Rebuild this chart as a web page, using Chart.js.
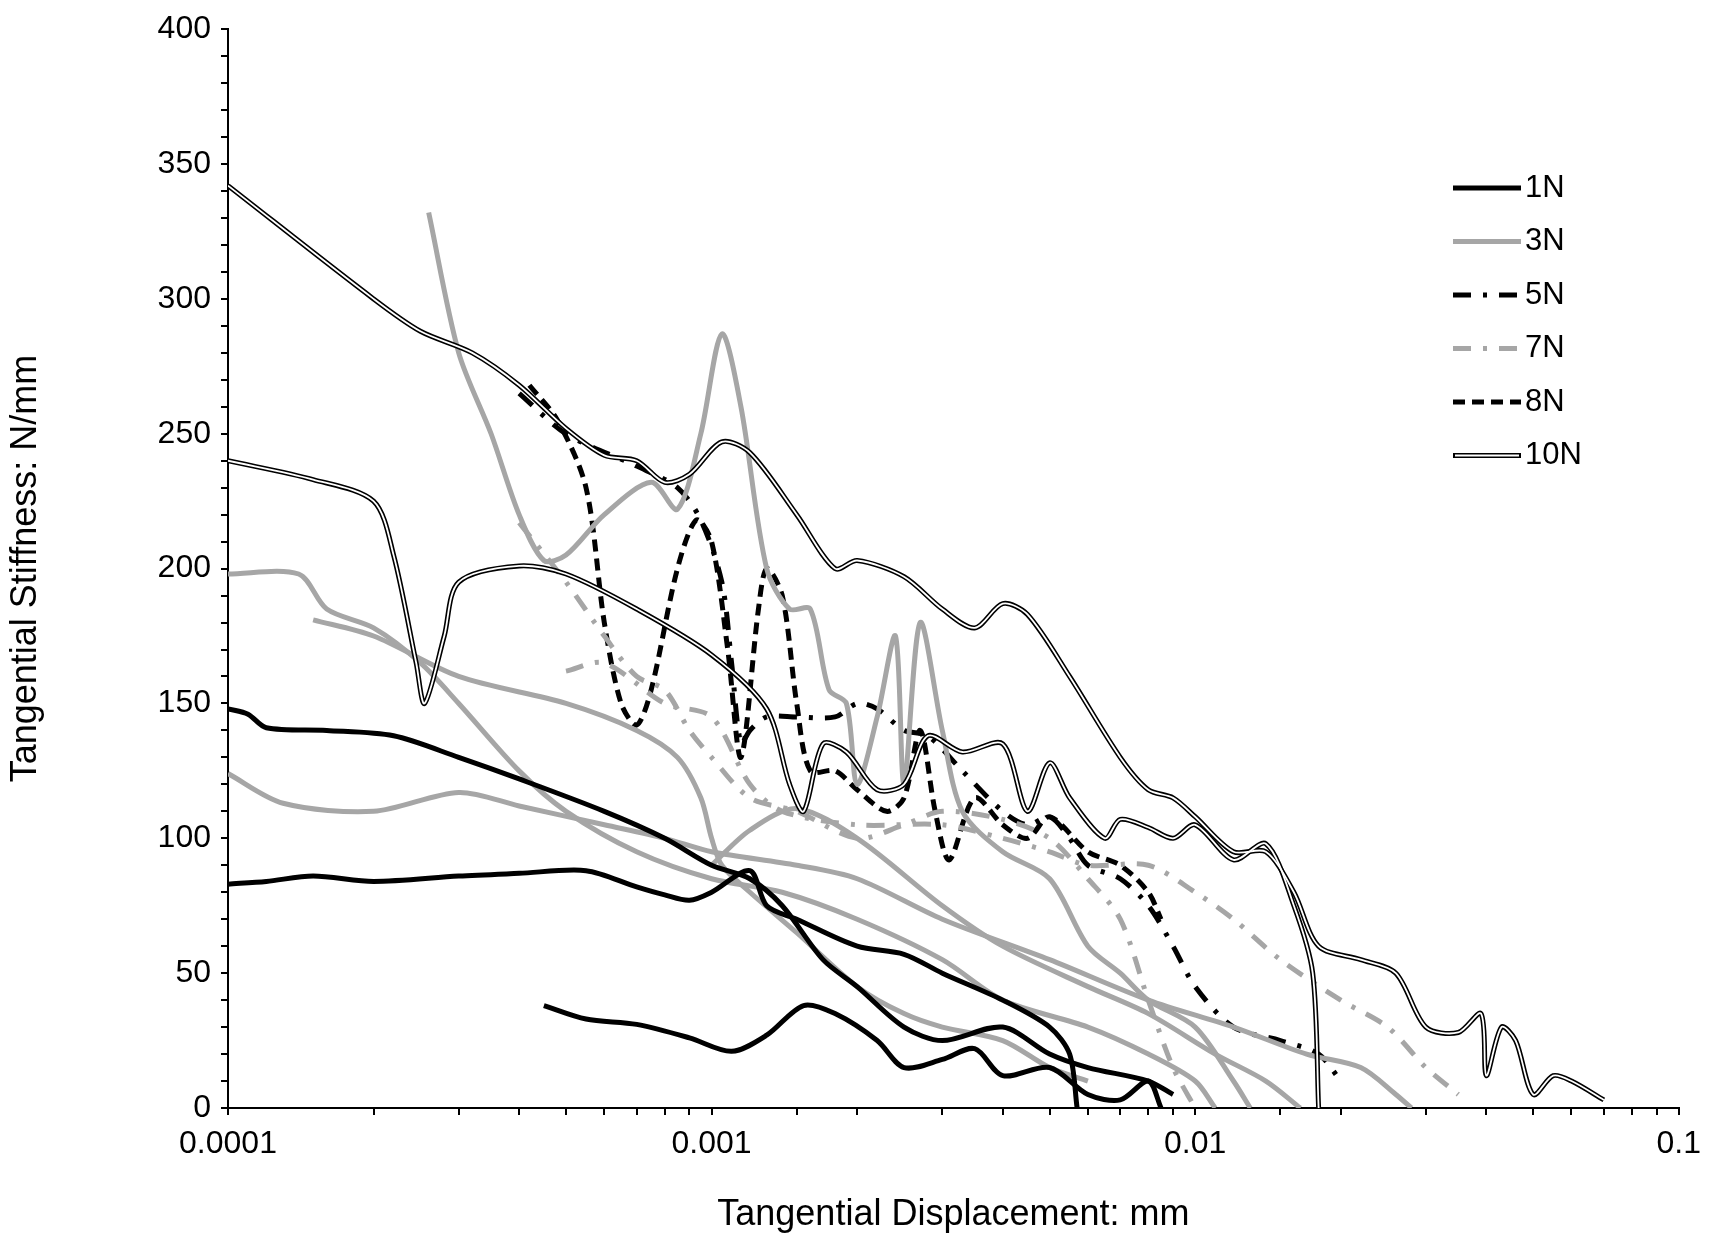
<!DOCTYPE html>
<html><head><meta charset="utf-8">
<script src="https://cdn.jsdelivr.net/npm/chart.js@4/dist/chart.umd.min.js"></script>
<style>html,body{margin:0;padding:0;background:#fff}#wrap{width:1711px;height:1241px}</style>
</head><body><div id="wrap"><canvas id="c"></canvas></div>
<script>
const xTickValues=[0.0001,0.001,0.01,0.1];
const xTickLabels=['0.0001','0.001','0.01','0.1'];
const seriesNames=['1N','3N','5N','7N','8N','10N'];
const n1a=[[1e-4,148],[1.1e-4,146],[1.2e-4,141],[1.6e-4,140],[2.2e-4,138],[3e-4,130],[4e-4,122],[6e-4,110],[8e-4,100],[1e-3,90],[1.2e-3,85],[1.4e-3,75],[1.7e-3,55],[2e-3,45],[2.5e-3,30],[3e-3,25],[4e-3,30],[5e-3,20],[6e-3,15],[8e-3,10],[9e-3,5]];
const n1b=[[1e-4,83],[1.2e-4,84],[1.5e-4,86],[2e-4,84],[3e-4,86],[4e-4,87],[5.5e-4,88],[7e-4,82],[8e-4,79],[9e-4,77],[1e-3,80],[1.2e-3,88],[1.3e-3,75],[1.5e-3,70],[2e-3,60],[2.5e-3,57],[3e-3,50],[4e-3,40],[5e-3,30],[5.5e-3,20],[5.7e-3,0]];
const n1c=[[4.5e-4,38],[5.5e-4,33],[7e-4,31],[9e-4,26],[1.1e-3,21],[1.3e-3,27],[1.55e-3,38],[1.8e-3,35],[2.2e-3,25],[2.5e-3,15],[3e-3,18],[3.5e-3,22],[4e-3,12],[5e-3,15],[6e-3,5],[7e-3,3],[8e-3,10],[8.5e-3,0]];
const n3a=[[2.6e-4,332],[3e-4,280],[3.5e-4,250],[4e-4,220],[4.5e-4,203],[5e-4,205],[6e-4,220],[7.5e-4,232],[8.5e-4,222],[9.5e-4,250],[1.05e-3,287],[1.15e-3,260],[1.3e-3,200],[1.45e-3,185],[1.6e-3,185],[1.75e-3,155],[1.9e-3,150],[2e-3,120],[2.2e-3,145],[2.4e-3,175],[2.5e-3,120],[2.7e-3,180],[3e-3,140],[3.3e-3,110],[4e-3,95],[5e-3,85],[6e-3,60],[7e-3,50],[8e-3,40],[1e-2,30],[1.2e-2,10],[1.3e-2,0]];
const n3b=[[1e-4,198],[1.4e-4,198],[1.6e-4,185],[2e-4,178],[2.5e-4,165],[3e-4,150],[4e-4,125],[5e-4,110],[7e-4,95],[1e-3,85],[1.4e-3,80],[2e-3,70],[3e-3,55],[4e-3,40],[6e-3,30],[8e-3,20],[1e-2,10],[1.1e-2,0]];
const n3c=[[1.5e-4,181],[2e-4,175],[3e-4,160],[5e-4,150],[7e-4,140],[8.5e-4,130],[9.5e-4,115],[1e-3,100],[1.05e-3,90],[1.2e-3,80],[1.5e-3,65],[2e-3,45],[2.5e-3,35],[3e-3,30],[4e-3,25],[5e-3,15],[6e-3,10]];
const n3d=[[1e-4,124],[1.3e-4,113],[2e-4,110],[3e-4,117],[4e-4,112],[6e-4,105],[8e-4,100],[1e-3,95],[1.5e-3,90],[2e-3,85],[3e-3,70],[5e-3,55],[8e-3,40],[1.2e-2,30],[1.7e-2,20],[2.2e-2,15],[2.6e-2,5],[2.8e-2,0]];
const n3e=[[1e-3,90],[1.2e-3,103],[1.5e-3,111],[2e-3,100],[3e-3,75],[4e-3,60],[6e-3,45],[8e-3,35],[1.1e-2,20],[1.4e-2,10],[1.65e-2,0]];
const n5=[[4e-4,265],[5e-4,250],[7e-4,238],[8.5e-4,230],[9.5e-4,218],[1.05e-3,195],[1.1e-3,165],[1.15e-3,135],[1.2e-3,140],[1.3e-3,145],[1.5e-3,145],[1.8e-3,145],[2e-3,150],[2.2e-3,148],[2.5e-3,140],[2.8e-3,138],[3.3e-3,125],[4e-3,110],[4.5e-3,105],[5e-3,108],[5.5e-3,100],[6e-3,90],[7e-3,85],[8e-3,75],[9e-3,60],[1e-2,45],[1.2e-2,30],[1.5e-2,25],[1.8e-2,20],[2e-2,10]];
const n7a=[[4e-4,217],[5e-4,195],[6e-4,175],[7e-4,160],[8e-4,155],[9e-4,140],[1e-3,130],[1.2e-3,115],[1.5e-3,110],[2e-3,100],[2.5e-3,105],[3e-3,110],[4e-3,107],[5e-3,100],[6e-3,85],[7e-3,70],[8e-3,40],[9e-3,15],[1e-2,0]];
const n7b=[[5e-4,162],[6e-4,165],[8e-4,150],[1e-3,145],[1.2e-3,120],[1.4e-3,110],[2e-3,105],[3e-3,105],[4e-3,100],[5e-3,95],[6e-3,90],[8e-3,90],[1e-2,80],[1.2e-2,70],[1.5e-2,55],[2e-2,40],[2.5e-2,30],[3e-2,15],[3.5e-2,5]];
const n8=[[4.2e-4,268],[4.8e-4,255],[5.5e-4,230],[6e-4,180],[6.5e-4,150],[7e-4,142],[7.5e-4,155],[8.5e-4,200],[9.3e-4,218],[1e-3,210],[1.08e-3,170],[1.15e-3,130],[1.25e-3,185],[1.3e-3,200],[1.4e-3,190],[1.5e-3,150],[1.6e-3,125],[1.8e-3,125],[2e-3,118],[2.3e-3,110],[2.5e-3,115],[2.7e-3,140],[2.9e-3,110],[3.1e-3,92],[3.5e-3,115],[4e-3,105],[4.5e-3,100],[5e-3,108],[6e-3,95],[7e-3,90],[8e-3,80],[8.5e-3,70]];
const n10a=[[1e-4,342],[2e-4,300],[2.5e-4,288],[3.2e-4,280],[4e-4,268],[5e-4,252],[6e-4,242],[7e-4,240],[8e-4,232],[9e-4,235],[1.05e-3,247],[1.2e-3,243],[1.5e-3,220],[1.8e-3,200],[2e-3,203],[2.5e-3,197],[3e-3,185],[3.5e-3,178],[4e-3,187],[4.5e-3,183],[5.5e-3,160],[7e-3,130],[8e-3,118],[9e-3,115],[1e-2,108],[1.2e-2,95],[1.4e-2,95],[1.6e-2,80],[1.8e-2,60],[2.2e-2,55],[2.6e-2,50],[3e-2,30],[3.5e-2,28],[3.9e-2,35],[4e-2,12],[4.3e-2,30],[4.6e-2,25],[5e-2,5],[5.5e-2,12],[6e-2,10],[7e-2,3]];
const n10b=[[1e-4,240],[1.5e-4,233],[2e-4,225],[2.2e-4,205],[2.45e-4,165],[2.55e-4,150],[2.8e-4,175],[3e-4,195],[4e-4,201],[5e-4,198],[7e-4,185],[1e-3,168],[1.3e-3,148],[1.45e-3,120],[1.55e-3,110],[1.7e-3,135],[1.9e-3,132],[2.2e-3,118],[2.5e-3,120],[2.8e-3,138],[3.3e-3,132],[4e-3,135],[4.5e-3,110],[5e-3,128],[5.5e-3,115],[6.5e-3,100],[7e-3,107],[8e-3,104],[9e-3,100],[1e-2,105],[1.2e-2,92],[1.4e-2,98],[1.6e-2,75],[1.75e-2,50],[1.8e-2,0]];

const GRAY='#a6a6a6';
const styles={
 '1N':{c:'#000',w:5,d:[]},
 '3N':{c:GRAY,w:5,d:[]},
 '5N':{c:'#000',w:5,d:[18,12,4,12]},
 '7N':{c:GRAY,w:5,d:[18,12,4,12]},
 '8N':{c:'#000',w:5,d:[12,7]},
 '10N':{c:'#000',w:5,d:[]}
};
const groups=[['1N',[n1a,n1b,n1c]],['3N',[n3a,n3b,n3c,n3d,n3e]],['7N',[n7a,n7b]],['5N',[n5]],['8N',[n8]],['10N',[n10a,n10b]]];
const datasets=[];
for(const [name,arrs] of groups){
 const s=styles[name];
 for(const a of arrs){
  const data=a.map(p=>({x:p[0],y:p[1]}));
  datasets.push({label:name,data,showLine:true,pointRadius:0,borderColor:s.c,borderWidth:s.w,borderDash:s.d,tension:0.3,order:name==='10N'?1:2});
  if(name==='10N') datasets.push({label:'10N-inner',data,showLine:true,pointRadius:0,borderColor:'#fff',borderWidth:1.8,tension:0.3,order:0});
 }
}
const legendPlugin={id:'lg',afterDraw(ch){
 const ctx=ch.ctx;ctx.save();
 seriesNames.forEach((n,i)=>{
  const y=188+i*53.5, s=styles[n];
  ctx.beginPath();ctx.setLineDash(s.d);ctx.strokeStyle=s.c;ctx.lineWidth=s.w;
  ctx.moveTo(1453,y);ctx.lineTo(1521,y);ctx.stroke();
  if(n==='10N'){ctx.beginPath();ctx.strokeStyle='#fff';ctx.lineWidth=1.8;ctx.moveTo(1455,y);ctx.lineTo(1519,y);ctx.stroke();}
  ctx.setLineDash([]);ctx.fillStyle='#000';ctx.font='31px "Liberation Sans"';ctx.textBaseline='middle';
  ctx.fillText(n,1525,y);
 });
 ctx.restore();
}};
new Chart(document.getElementById('c'),{type:'scatter',data:{datasets},
options:{responsive:true,maintainAspectRatio:false,animation:false,
 layout:{padding:{top:14,right:31,left:0,bottom:0}},
 plugins:{legend:{display:false},tooltip:{enabled:false}},
 scales:{
  x:{type:'logarithmic',min:0.0001,max:0.1,
   afterFit(ax){ax.height=133;},
   ticks:{color:'#000',autoSkip:false,font:{family:'Liberation Sans',size:32},callback:(v)=>{const i=xTickValues.findIndex(t=>Math.abs(t-v)/t<1e-6);return i>=0?xTickLabels[i]:'';},maxRotation:0,padding:10},
   grid:{drawOnChartArea:false,drawTicks:true,tickLength:7,color:'#000',lineWidth:2},
   border:{color:'#000',width:2},
   title:{display:true,text:'Tangential Displacement: mm',color:'#000',font:{family:'Liberation Sans',size:36},padding:{top:20}}},
  y:{min:0,max:400,
   afterFit(ax){ax.width=228;},
   ticks:{stepSize:10,color:'#000',font:{family:'Liberation Sans',size:32},callback:(v)=>v%50===0?String(v):'',autoSkip:false,padding:10},
   grid:{drawOnChartArea:false,drawTicks:true,tickLength:7,color:'#000',lineWidth:2},
   border:{color:'#000',width:2},
   title:{display:true,text:'Tangential Stiffness: N/mm',color:'#000',font:{family:'Liberation Sans',size:36},padding:{bottom:44}}}
 }},plugins:[legendPlugin]});
</script></body></html>
